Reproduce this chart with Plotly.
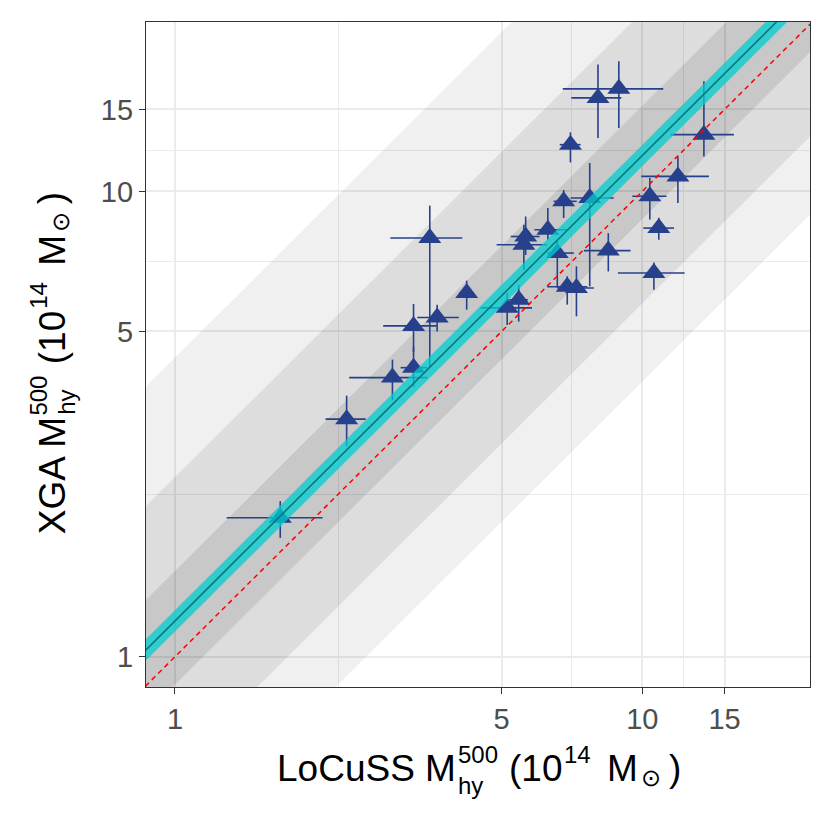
import numpy as np
import plotly.graph_objects as go

# LoCuSS vs XGA hydrostatic masses, 10^14 Msun
locuss_m = [1.68, 2.33, 2.92, 3.24, 3.24, 3.51, 3.64, 4.21, 5.14, 5.44, 5.63, 5.58, 6.28, 6.58,
            6.79, 6.91, 7.23, 7.02, 7.72, 8.04, 8.91, 8.46, 10.38, 10.85, 10.59, 11.92, 13.55]
locuss_lo = [0.39, 0.23, 0.56, 0.20, 0.45, 0.62, 0.34, 0.15, 0.63, 0.25, 0.40, 0.70, 0.40, 0.32,
             0.33, 0.65, 0.65, 0.36, 0.70, 0.99, 2.15, 0.96, 0.86, 0.80, 1.72, 1.97, 2.05]
locuss_hi = [0.39, 0.23, 0.55, 0.22, 0.40, 0.61, 0.41, 0.15, 0.67, 0.25, 0.40, 0.68, 0.65, 0.56,
             0.45, 0.72, 0.65, 0.36, 0.97, 0.98, 2.18, 0.98, 0.89, 0.84, 1.73, 1.97, 2.16]
xga_m = [1.99, 3.24, 3.98, 4.18, 5.14, 7.94, 5.36, 6.05, 5.62, 5.85, 8.00, 7.68, 8.27, 7.37,
         9.52, 6.24, 6.20, 12.60, 9.68, 15.88, 16.61, 7.46, 9.76, 8.34, 6.68, 10.77, 13.24]
xga_lo = [0.19, 0.41, 0.42, 0.38, 0.62, 3.75, 0.36, 0.48, 0.46, 0.60, 0.70, 0.90, 0.40, 1.16,
          0.75, 0.53, 0.81, 1.06, 3.43, 2.85, 2.92, 0.73, 1.06, 0.47, 0.53, 1.33, 1.35]
xga_hi = [0.17, 0.40, 0.37, 0.46, 0.59, 1.38, 0.35, 0.38, 0.43, 0.45, 0.83, 0.80, 0.94, 0.50,
          0.55, 0.33, 0.70, 0.79, 1.83, 2.85, 2.43, 0.67, 0.93, 0.44, 0.35, 1.12, 4.00]

# fitted scaling relation (log10 space) and scatter bands, offsets in dex
fit_norm = 0.077
fit_slope = 1.0
fit_err = 0.023
bands = [(-0.486, 0.566, 'rgba(0,0,0,0.06)'),
         (-0.318, 0.309, 'rgba(0,0,0,0.08)'),
         (-0.137, 0.107, 'rgba(0,0,0,0.095)')]

lx = np.linspace(-0.5, 1.8, 50)
xx = 10 ** lx
fit_y = 10 ** (fit_norm + fit_slope * lx)


def band_trace(lo, hi, col):
    xs = np.concatenate([xx, xx[::-1]])
    ys = np.concatenate([fit_y * 10 ** lo, (fit_y * 10 ** hi)[::-1]])
    return go.Scatter(x=xs, y=ys, fill='toself', fillcolor=col, mode='none',
                      hoverinfo='skip', showlegend=False)


fig = go.Figure()
for lo, hi, col in bands:
    fig.add_trace(band_trace(lo, hi, col))

blue = '#27408B'
fig.add_trace(go.Scatter(
    x=locuss_m, y=xga_m, mode='markers',
    marker=dict(symbol='triangle-up', size=20, color=blue),
    error_x=dict(type='data', array=locuss_hi, arrayminus=locuss_lo, width=0, thickness=1.6, color=blue),
    error_y=dict(type='data', array=xga_hi, arrayminus=xga_lo, width=0, thickness=1.6, color=blue),
    showlegend=False))

fig.add_trace(band_trace(-fit_err, fit_err, 'rgba(0,206,209,0.75)'))
fig.add_trace(go.Scatter(x=xx, y=fit_y, mode='lines', line=dict(color='#007a7a', width=1.6),
                         showlegend=False))
fig.add_trace(go.Scatter(x=xx, y=xx, mode='lines', line=dict(color='red', width=1.5, dash='5px,4px'),
                         showlegend=False))

ticks = [1, 5, 10, 15]
minor = [2.236, 7.071, 12.247]
axis_style = dict(
    type='log', tickmode='array', tickvals=ticks, ticktext=[str(t) for t in ticks],
    showgrid=True, gridcolor='#EBEBEB', gridwidth=1.6,
    minor=dict(tickmode='array', tickvals=minor, showgrid=True, gridcolor='#EBEBEB', gridwidth=0.8, ticks=''),
    showline=True, mirror=True, linecolor='#333333', linewidth=1.3,
    ticks='outside', ticklen=6, tickwidth=1.3, tickcolor='#333333',
    tickfont=dict(size=29, color='#4D4D4D', family='Liberation Sans'),
    zeroline=False,
)

# axis titles built from pieces so that the super/subscripts stack like plotmath
# (page pixel positions: plot area spans x 146-810, y 22-687)
BIG, SMALL = 37, 24


def px_x(p):
    return (p - 146) / 664


def px_y(p):
    return (687 - p) / 665


annots = []
x_pieces = [('LoCuSS M', 457, 768.9, BIG, 'right'),
            ('500', 456.7, 755.0, SMALL, 'left'),
            ('hy', 456.7, 785.0, SMALL, 'left'),
            ('(10', 507.5, 768.9, BIG, 'left'),
            ('14', 563, 755.0, SMALL, 'left'),
            ('M', 606, 768.9, BIG, 'left'),
            ('⊙', 640, 777.5, SMALL, 'left'),
            (')', 668, 768.9, BIG, 'left')]
for txt, x, y, s, anc in x_pieces:
    annots.append(dict(text=txt, xref='paper', yref='paper', x=px_x(x), y=px_y(y),
                       xanchor=anc, yanchor='middle', showarrow=False, borderpad=0,
                       font=dict(size=s, color='black', family='Liberation Sans')))

y_pieces = [('XGA M', 52.2, 416.5, BIG, 'top'),
            ('500', 38.3, 416.3, SMALL, 'bottom'),
            ('hy', 67.0, 416.3, SMALL, 'bottom'),
            ('(10', 52.2, 365.5, BIG, 'bottom'),
            ('14', 38.3, 310, SMALL, 'bottom'),
            ('M', 52.2, 267, BIG, 'bottom'),
            ('⊙', 60.8, 233, SMALL, 'bottom'),
            (')', 52.2, 205, BIG, 'bottom')]
for txt, x, y, s, anc in y_pieces:
    annots.append(dict(text=txt, xref='paper', yref='paper', x=px_x(x), y=px_y(y),
                       xanchor='center', yanchor=anc, textangle=-90, showarrow=False, borderpad=0,
                       font=dict(size=s, color='black', family='Liberation Sans')))

fig.update_layout(
    width=822, height=822,
    margin=dict(l=138, r=20, t=14, b=143),
    paper_bgcolor='white', plot_bgcolor='white',
    xaxis=dict(range=[-0.062, 1.359], **axis_style),
    yaxis=dict(range=[-0.065, 1.364], **axis_style),
    font=dict(family='Liberation Sans'),
    annotations=annots,
)

fig.write_html('out.html')
